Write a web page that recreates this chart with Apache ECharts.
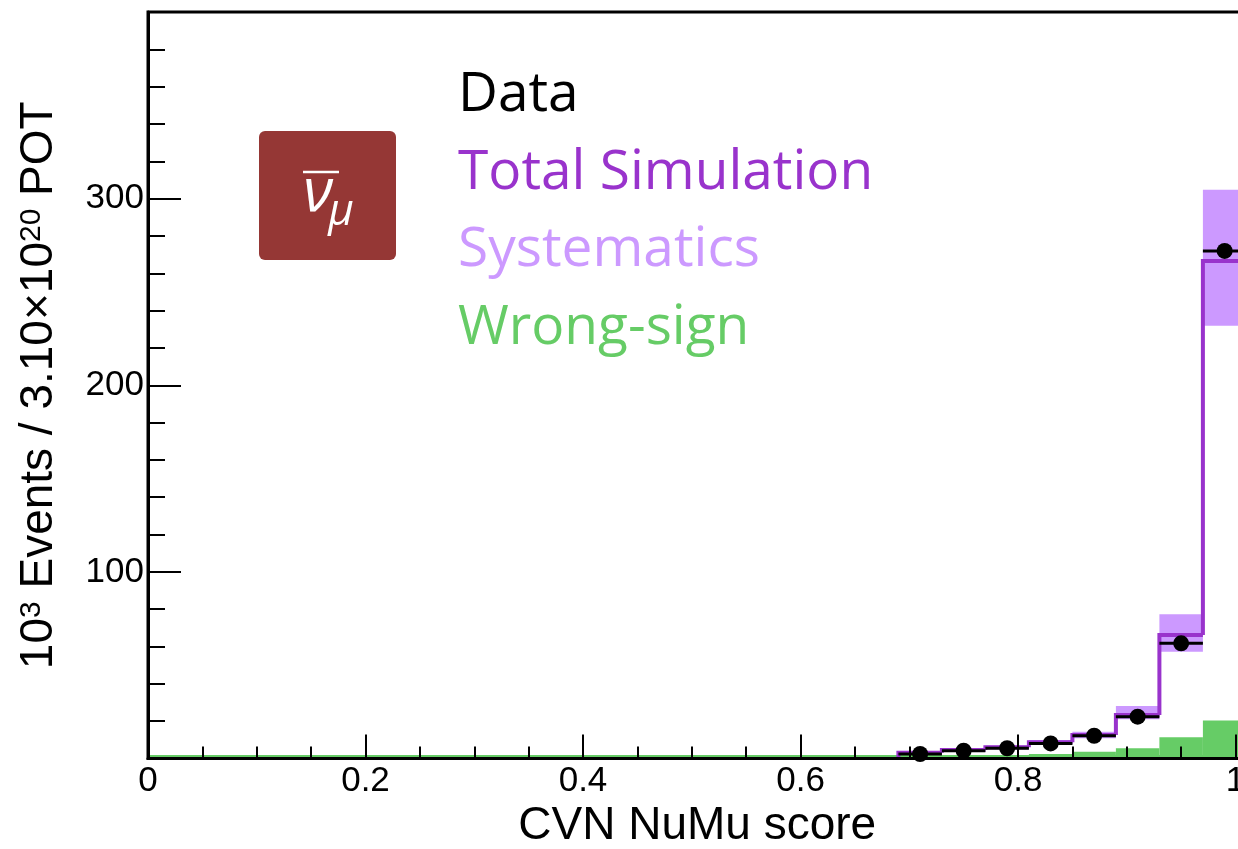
<!DOCTYPE html>
<html>
<head>
<meta charset="utf-8">
<script src="https://cdn.jsdelivr.net/npm/echarts@6/dist/echarts.min.js"></script>
<style>
html,body{margin:0;padding:0;background:#fff;}
#chart{width:1238px;height:849px;}
</style>
</head>
<body>
<div id="chart"></div>
<script>
// ---- data ----
const binCenters = [0.71, 0.75, 0.79, 0.83, 0.87, 0.91, 0.95, 0.99];
const binWidth = 0.04;
const totalSim = [3.1, 4.6, 6.0, 8.7, 12.6, 23.3, 66.2, 266.6];
const dataVals = [2.4, 4.2, 5.5, 8.1, 12.2, 22.4, 61.7, 272.0];
const sysLow   = [2.6, 3.9, 5.2, 7.6, 10.8, 21.0, 57.2, 231.9];
const sysHigh  = [3.6, 5.3, 6.9, 9.9, 14.4, 28.1, 77.3, 304.7];
const wrongSign = [1.2, 1.5, 1.9, 2.4, 3.6, 5.5, 11.4, 20.3];
const legendNames = ['Data', 'Total Simulation', 'Systematics', 'Wrong-sign'];
const xTitle = 'CVN NuMu score';
const yTitle = '{n|10}{s|3}{n| Events / 3.10×10}{s|20}{n| POT}';
const xRange = [0, 1.01];
const yRange = [0, 400];

const C_DATA = '#000000', C_SIM = '#9933cc', C_SYS = '#cc99ff', C_WS = '#66cc66';
const AXIS_FONT = 'Liberation Sans, Arial, Helvetica, sans-serif';
const LEG_FONT = 'Open Sans, Lato, sans-serif';

const lo = i => binCenters[i] - binWidth / 2;
const hi = i => binCenters[i] + binWidth / 2;

const sysData = binCenters.map((c, i) => [lo(i), hi(i), sysLow[i], sysHigh[i]]);
const wsData = binCenters.map((c, i) => [lo(i), hi(i), wrongSign[i]]);
const simData = binCenters.map((c, i) => [lo(i), hi(i), totalSim[i], i === 0 ? 0 : totalSim[i - 1]]);
const errData = binCenters.map((c, i) => [lo(i), hi(i), dataVals[i]]);
const ptData = binCenters.map((c, i) => [c, dataVals[i]]);

const chart = echarts.init(document.getElementById('chart'), null, {renderer: 'canvas'});

const option = {
  animation: false,
  backgroundColor: '#ffffff',
  grid: {
    left: 148, top: 12, right: -8.4, bottom: 90.5,
    outerBoundsMode: 'none', containLabel: false,
    show: true, borderColor: '#000', borderWidth: 3, backgroundColor: 'transparent'
  },
  legend: {
    orient: 'vertical', left: 448, top: 63,
    icon: 'none', itemWidth: 0, itemHeight: 10, itemGap: 22.5,
    selectedMode: false,
    textStyle: {fontFamily: LEG_FONT, fontSize: 55},
    data: [
      {name: legendNames[0], textStyle: {color: C_DATA}},
      {name: legendNames[1], textStyle: {color: C_SIM}},
      {name: legendNames[2], textStyle: {color: C_SYS}},
      {name: legendNames[3], textStyle: {color: C_WS}}
    ]
  },
  xAxis: {
    type: 'value', min: xRange[0], max: xRange[1], interval: 0.2, z: 10,
    name: xTitle, nameLocation: 'middle', nameGap: 44,
    nameTextStyle: {fontFamily: AXIS_FONT, fontSize: 46, color: '#000'},
    axisLine: {lineStyle: {color: '#000', width: 3}},
    axisTick: {inside: true, length: 24, lineStyle: {color: '#000', width: 2}},
    minorTick: {show: true, splitNumber: 4, length: 12, lineStyle: {color: '#000', width: 2}},
    splitLine: {show: false},
    axisLabel: {fontFamily: AXIS_FONT, fontSize: 35, color: '#000', margin: 5, showMaxLabel: false}
  },
  yAxis: {
    type: 'value', min: yRange[0], max: yRange[1], interval: 100, z: 10,
    name: yTitle, nameLocation: 'middle', nameGap: 80,
    nameTextStyle: {
      fontFamily: AXIS_FONT, fontSize: 46, color: '#000',
      rich: {
        n: {fontFamily: AXIS_FONT, fontSize: 46, lineHeight: 46, color: '#000', verticalAlign: 'bottom'},
        s: {fontFamily: AXIS_FONT, fontSize: 30, lineHeight: 30, color: '#000', verticalAlign: 'top', padding: [0, 0, 28, 0]}
      }
    },
    axisLine: {lineStyle: {color: '#000', width: 3}},
    axisTick: {inside: true, length: 33, lineStyle: {color: '#000', width: 2}},
    minorTick: {show: true, splitNumber: 5, length: 17, lineStyle: {color: '#000', width: 2}},
    splitLine: {show: false},
    axisLabel: {fontFamily: AXIS_FONT, fontSize: 35, color: '#000', margin: 4, showMaxLabel: false, showMinLabel: false}
  },
  graphic: [
    {type: 'rect', left: 259, top: 131, shape: {width: 137, height: 129, r: 6}, style: {fill: '#953735'}, z: 5},
    {type: 'text', x: 318, y: 194, style: {text: 'ν', fill: '#fff', font: 'italic 60px "Open Sans", sans-serif', align: 'center', verticalAlign: 'middle'}, z: 6},
    {type: 'line', shape: {x1: 303, y1: 172, x2: 339, y2: 172}, style: {stroke: '#fff', lineWidth: 2.5}, z: 6},
    {type: 'text', x: 341, y: 212, style: {text: 'μ', fill: '#fff', font: 'italic 44px "Open Sans", sans-serif', align: 'center', verticalAlign: 'middle'}, z: 6}
  ],
  series: [
    {
      name: legendNames[2], type: 'custom', data: sysData, z: 2,
      itemStyle: {color: C_SYS},
      encode: {x: [0, 1], y: [2, 3]},
      renderItem: function (params, api) {
        const p1 = api.coord([api.value(0), api.value(3)]);
        const p2 = api.coord([api.value(1), api.value(2)]);
        return {type: 'rect', shape: {x: p1[0], y: p1[1], width: p2[0] - p1[0], height: p2[1] - p1[1]},
                style: {fill: C_SYS}};
      }
    },
    {
      name: legendNames[3], type: 'custom', data: wsData, z: 3,
      itemStyle: {color: C_WS},
      encode: {x: [0, 1], y: 2},
      renderItem: function (params, api) {
        const p1 = api.coord([api.value(0), api.value(2)]);
        const p2 = api.coord([api.value(1), 0]);
        const children = [{type: 'rect', shape: {x: p1[0], y: p1[1], width: p2[0] - p1[0], height: p2[1] - p1[1] - 1.5},
                style: {fill: C_WS}}];
        if (params.dataIndex === 0) {
          const a = api.coord([xRange[0], 0]);
          const b = api.coord([xRange[1], 0]);
          children.push({type: 'line', shape: {x1: a[0], y1: a[1] - 2, x2: b[0], y2: b[1] - 2},
                         style: {stroke: C_WS, lineWidth: 3}});
        }
        return {type: 'group', children: children};
      }
    },
    {
      name: legendNames[1], type: 'custom', data: simData, z: 4,
      itemStyle: {color: C_SIM},
      encode: {x: [0, 1], y: [2, 3]},
      renderItem: function (params, api) {
        const a = api.coord([api.value(0), api.value(3)]);
        const b = api.coord([api.value(0), api.value(2)]);
        const c = api.coord([api.value(1), api.value(2)]);
        return {type: 'polyline', shape: {points: [a, b, c]},
                style: {stroke: C_SIM, lineWidth: 4, fill: null, lineJoin: 'miter'}};
      }
    },
    {
      name: legendNames[0] + ' err', type: 'custom', data: errData, z: 5,
      encode: {x: [0, 1], y: 2},
      renderItem: function (params, api) {
        const a = api.coord([api.value(0), api.value(2)]);
        const b = api.coord([api.value(1), api.value(2)]);
        return {type: 'line', shape: {x1: a[0], y1: a[1], x2: b[0], y2: b[1]},
                style: {stroke: C_DATA, lineWidth: 3}};
      }
    },
    {
      name: legendNames[0], type: 'scatter', data: ptData, z: 6,
      symbol: 'circle', symbolSize: 16, itemStyle: {color: C_DATA, opacity: 1}
    }
  ]
};
chart.setOption(option);
</script>
</body>
</html>
